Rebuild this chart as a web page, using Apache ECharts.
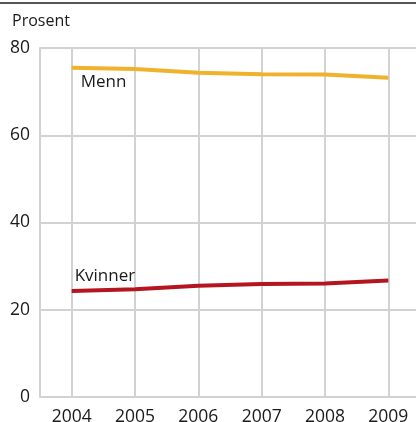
<!DOCTYPE html>
<html><head><meta charset="utf-8">
<script src="https://cdn.jsdelivr.net/npm/echarts@6/dist/echarts.min.js"></script>
<style>html,body{margin:0;padding:0;background:#fff}#c{width:416px;height:422px}</style>
</head><body><div id="c"></div>
<script>
const years = ['2004','2005','2006','2007','2008','2009'];
const menn = [75.5, 75.2, 74.3, 74.0, 73.9, 73.2];
const kvinner = [24.3, 24.7, 25.5, 25.9, 26.0, 26.7];
const yTicks = [0, 20, 40, 60, 80];
const unitLabel = 'Prosent';

const chart = echarts.init(document.getElementById('c'));
const font = '"Open Sans", sans-serif';
function withFirstLabel(arr, name, offset) {
  return arr.map((v, i) => i === 0 ? {
    value: v,
    label: {show: true, formatter: name, position: 'right', distance: 0, offset: offset,
      color: '#1a1a1a', fontSize: 17, fontFamily: font}
  } : v);
}
chart.setOption({
  animation: false,
  graphic: [
    {type: 'rect', shape: {x: 0, y: 2, width: 416, height: 2}, style: {fill: '#555'}},
    {type: 'text', left: 12, top: 13, style: {text: unitLabel, fontSize: 16, fontFamily: font, fill: '#1a1a1a'}}
  ],
  grid: {left: 40, top: 48, width: 380, height: 349, containLabel: false, outerBoundsMode: 'none'},
  xAxis: {
    type: 'category', data: years, boundaryGap: true,
    axisLine: {show: false},
    axisTick: {show: false},
    axisLabel: {color: '#1a1a1a', fontSize: 17.5, fontFamily: font, margin: 11},
    splitLine: {show: true, alignWithLabel: true, lineStyle: {color: '#d2d2d2', width: 2}}
  },
  yAxis: {
    type: 'value', min: yTicks[0], max: yTicks[yTicks.length - 1], interval: 20,
    axisLine: {show: true, lineStyle: {color: '#d2d2d2', width: 2}},
    axisTick: {show: false},
    axisLabel: {color: '#1a1a1a', fontSize: 17.5, fontFamily: font, margin: 10},
    splitLine: {show: true, lineStyle: {color: '#d2d2d2', width: 2}}
  },
  series: [
    {name: 'Menn', type: 'line', data: withFirstLabel(menn, 'Menn', [9, 15]),
      symbol: 'circle', symbolSize: 0, showSymbol: true,
      lineStyle: {color: '#f0b12b', width: 4}, itemStyle: {color: '#f0b12b'}},
    {name: 'Kvinner', type: 'line', data: withFirstLabel(kvinner, 'Kvinner', [3, -15]),
      symbol: 'circle', symbolSize: 0, showSymbol: true,
      lineStyle: {color: '#b5151f', width: 4}, itemStyle: {color: '#b5151f'}}
  ]
});
</script></body></html>
